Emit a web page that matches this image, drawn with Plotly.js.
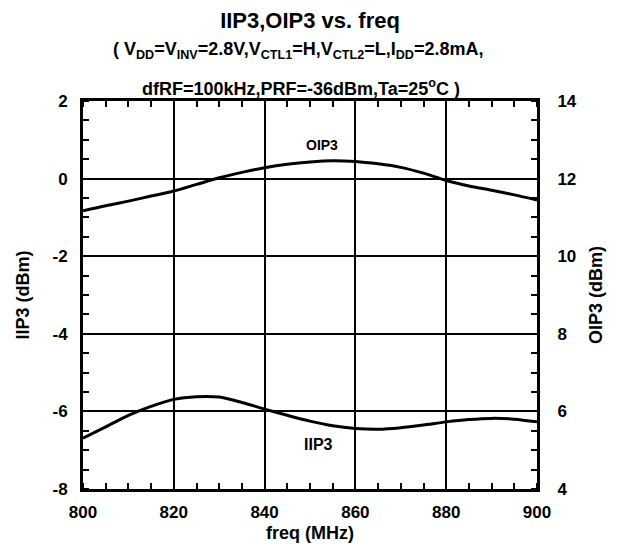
<!DOCTYPE html>
<html>
<head>
<meta charset="utf-8">
<script src="https://cdn.plot.ly/plotly-3.0.1.min.js"></script>
<style>html,body{margin:0;padding:0;background:#fff;}#chart{width:619px;height:550px;}</style>
</head>
<body>
<div id="chart"></div>
<script>
const freq = [800, 805, 810, 815, 820, 825, 830, 835, 840, 845, 850, 855, 860, 865, 870, 875, 880, 885, 890, 895, 900];
const iip3 = [-6.69, -6.40, -6.10, -5.87, -5.69, -5.62, -5.63, -5.77, -5.94, -6.10, -6.25, -6.37, -6.44, -6.46, -6.42, -6.35, -6.27, -6.21, -6.18, -6.20, -6.27];
const oip3 = [11.17, 11.30, 11.42, 11.55, 11.68, 11.85, 12.02, 12.16, 12.28, 12.37, 12.43, 12.46, 12.44, 12.38, 12.29, 12.14, 11.95, 11.81, 11.70, 11.58, 11.45];
const xTicks = [800, 820, 840, 860, 880, 900];
const yLeftTicks = [-8, -6, -4, -2, 0, 2];
const yRightTicks = [4, 6, 8, 10, 12, 14];

const FONT = 'Liberation Sans, Arial, Helvetica, sans-serif';
const tickFont = {family: FONT, size: 17, color: '#000', weight: 'bold'};
const titleFont = {family: FONT, size: 18, color: '#000', weight: 'bold'};
const CLEAR = 'rgba(0,0,0,0)';

const traces = [
  {x: freq, y: oip3, yaxis: 'y2', type: 'scatter', mode: 'lines', name: 'OIP3',
   line: {color: '#000', width: 3, shape: 'spline', smoothing: 0.8}},
  {x: freq, y: iip3, type: 'scatter', mode: 'lines', name: 'IIP3',
   line: {color: '#000', width: 3, shape: 'spline', smoothing: 0.8}}
];

const layout = {
  width: 619, height: 550,
  margin: {l: 83, r: 82, t: 101, b: 61},
  paper_bgcolor: '#fff', plot_bgcolor: '#fff',
  showlegend: false,
  font: {family: FONT, color: '#000'},
  title: {text: 'IIP3,OIP3 vs. freq', font: {family: FONT, size: 22, color: '#000', weight: 'bold'},
          x: (310-83)/454, xref: 'paper', xanchor: 'center', y: 1 - 20/550, yref: 'container', yanchor: 'middle'},
  xaxis: {
    range: [800, 900], tickmode: 'array', tickvals: xTicks, ticktext: xTicks.map(String),
    showgrid: true, gridcolor: '#000', gridwidth: 2,
    showline: true, linecolor: '#000', linewidth: 3, mirror: 'allticks',
    ticks: 'outside', ticklen: 6, tickcolor: CLEAR,
    minor: {dtick: 5, ticks: 'inside', ticklen: 6, tickwidth: 2, tickcolor: '#000', showgrid: false},
    zeroline: false, tickfont: tickFont,
    title: {text: 'freq (MHz)', font: titleFont, standoff: 5}
  },
  yaxis: {
    range: [-8, 2], tickmode: 'array', tickvals: yLeftTicks, ticktext: yLeftTicks.map(String),
    showgrid: true, gridcolor: '#000', gridwidth: 2,
    showline: true, linecolor: '#000', linewidth: 3, mirror: 'allticks',
    ticks: 'outside', ticklen: 9, tickcolor: CLEAR,
    minor: {dtick: 0.5, ticks: 'inside', ticklen: 6, tickwidth: 2, tickcolor: '#000', showgrid: false},
    zeroline: false, tickfont: tickFont,
    title: {text: 'IIP3 (dBm)', font: titleFont, standoff: 19}
  },
  yaxis2: {
    range: [4, 14], tickmode: 'array', tickvals: yRightTicks, ticktext: yRightTicks.map(String),
    overlaying: 'y', side: 'right', showgrid: false,
    showline: true, linecolor: '#000', linewidth: 3,
    ticks: 'outside', ticklen: 14, tickcolor: CLEAR,
    zeroline: false, tickfont: tickFont,
    title: {text: 'OIP3 (dBm)', font: titleFont, standoff: 14}
  },
  annotations: [
    {text: '<b>( V<sub>DD</sub>=V<sub>INV</sub>=2.8V,V<sub>CTL1</sub>=H,V<sub>CTL2</sub>=L,I<sub>DD</sub>=2.8mA,</b>',
     xref: 'paper', yref: 'paper', x: (298-83)/454, y: (489-50)/388, xanchor: 'center', yanchor: 'middle',
     showarrow: false, font: {family: FONT, size: 18, color: '#000'}},
    {text: '<b>dfRF=100kHz,PRF=-36dBm,Ta=25<sup>o</sup>C )</b>',
     xref: 'paper', yref: 'paper', x: (301-83)/454, y: (489-88)/388, xanchor: 'center', yanchor: 'middle',
     showarrow: false, font: {family: FONT, size: 18, color: '#000'}},
    {text: '<b>OIP3</b>', xref: 'paper', yref: 'paper', x: (322-83)/454, y: (489-145)/388,
     xanchor: 'center', yanchor: 'middle', showarrow: false, font: {family: FONT, size: 14, color: '#000'}},
    {text: '<b>IIP3</b>', xref: 'paper', yref: 'paper', x: (318-83)/454, y: (489-444)/388,
     xanchor: 'center', yanchor: 'middle', showarrow: false, font: {family: FONT, size: 16, color: '#000'}}
  ]
};

Plotly.newPlot('chart', traces, layout, {displayModeBar: false});
</script>
</body>
</html>
